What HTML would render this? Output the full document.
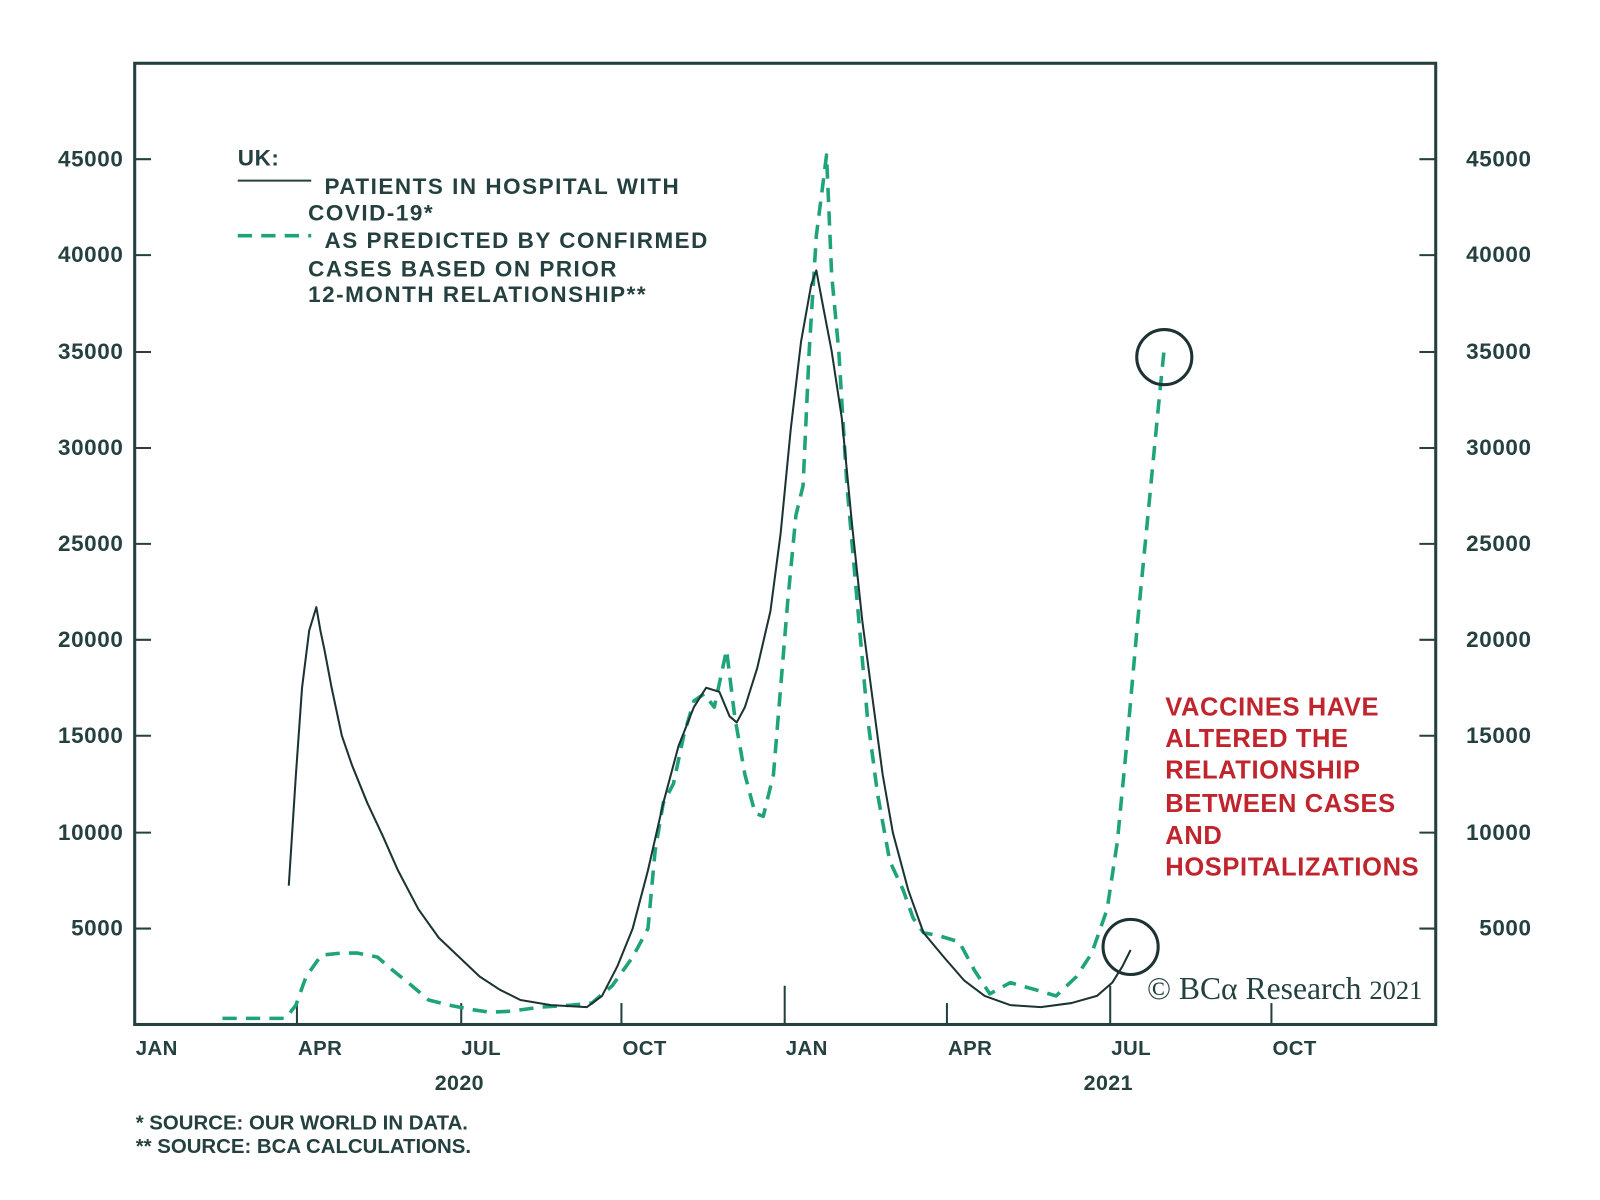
<!DOCTYPE html>
<html><head><meta charset="utf-8"><style>html,body{margin:0;padding:0;background:#fff}svg{display:block}</style></head>
<body>
<svg width="1600" height="1200" viewBox="0 0 1568 1176" xmlns="http://www.w3.org/2000/svg" font-family="Liberation Sans, Arial, sans-serif">
<rect width="1568" height="1176" fill="#fff"/>
<g stroke="#24403f" stroke-width="3" fill="none">
<rect x="132" y="62" width="1275" height="942"/>
</g>
<g stroke="#24403f" stroke-width="2">
<line x1="132" y1="156" x2="148" y2="156"/><line x1="132" y1="250" x2="148" y2="250"/><line x1="132" y1="345" x2="148" y2="345"/><line x1="132" y1="439" x2="148" y2="439"/><line x1="132" y1="533" x2="148" y2="533"/><line x1="132" y1="627" x2="148" y2="627"/><line x1="132" y1="721" x2="148" y2="721"/><line x1="132" y1="816" x2="148" y2="816"/><line x1="132" y1="910" x2="148" y2="910"/>
<line x1="1391" y1="156" x2="1407" y2="156"/><line x1="1391" y1="250" x2="1407" y2="250"/><line x1="1391" y1="345" x2="1407" y2="345"/><line x1="1391" y1="439" x2="1407" y2="439"/><line x1="1391" y1="533" x2="1407" y2="533"/><line x1="1391" y1="627" x2="1407" y2="627"/><line x1="1391" y1="721" x2="1407" y2="721"/><line x1="1391" y1="816" x2="1407" y2="816"/><line x1="1391" y1="910" x2="1407" y2="910"/>
<line x1="291" y1="1004" x2="291" y2="983"/><line x1="452" y1="1004" x2="452" y2="983"/><line x1="609" y1="1004" x2="609" y2="983"/><line x1="769" y1="1004" x2="769" y2="966"/><line x1="928" y1="1004" x2="928" y2="983"/><line x1="1088" y1="1004" x2="1088" y2="966"/><line x1="1246" y1="1004" x2="1246" y2="983"/>
</g>
<g font-size="22" font-weight="bold" fill="#24403f" letter-spacing="0.6">
<g text-anchor="end">
<text x="121" y="163">45000</text><text x="121" y="257">40000</text><text x="121" y="352">35000</text><text x="121" y="446">30000</text><text x="121" y="540">25000</text><text x="121" y="634">20000</text><text x="121" y="728">15000</text><text x="121" y="823">10000</text><text x="121" y="917">5000</text>
<text x="1501" y="163">45000</text><text x="1501" y="257">40000</text><text x="1501" y="352">35000</text><text x="1501" y="446">30000</text><text x="1501" y="540">25000</text><text x="1501" y="634">20000</text><text x="1501" y="728">15000</text><text x="1501" y="823">10000</text><text x="1501" y="917">5000</text>
</g>
<g font-size="20" letter-spacing="0.4">
<text x="133" y="1034">JAN</text><text x="292" y="1034">APR</text><text x="452" y="1034">JUL</text><text x="610" y="1034">OCT</text><text x="770" y="1034">JAN</text><text x="929" y="1034">APR</text><text x="1089" y="1034">JUL</text><text x="1247" y="1034">OCT</text>
<text x="426" y="1068" font-size="21">2020</text><text x="1062" y="1068" font-size="21">2021</text>
</g>
<g letter-spacing="1.5">
<text x="233" y="162" letter-spacing="0.6">UK:</text>
<text x="318" y="190">PATIENTS IN HOSPITAL WITH</text>
<text x="302" y="216">COVID-19*</text>
<text x="318" y="243">AS PREDICTED BY CONFIRMED</text>
<text x="302" y="271">CASES BASED ON PRIOR</text>
<text x="302" y="296">12-MONTH RELATIONSHIP**</text>
</g>
<text x="133" y="1107" font-size="20" letter-spacing="0">*  SOURCE: OUR WORLD IN DATA.</text>
<text x="133" y="1130" font-size="20" letter-spacing="0">** SOURCE: BCA CALCULATIONS.</text>
</g>
<line x1="233" y1="177" x2="305" y2="177" stroke="#24403f" stroke-width="2"/>
<line x1="233" y1="231" x2="305" y2="231" stroke="#1fa37a" stroke-width="3.5" stroke-dasharray="14,9"/>
<g font-size="25" font-weight="bold" fill="#c0242c" letter-spacing="0.6">
<text x="1142" y="701">VACCINES HAVE</text><text x="1142" y="732">ALTERED THE</text><text x="1142" y="763">RELATIONSHIP</text><text x="1142" y="796">BETWEEN CASES</text><text x="1142" y="827">AND</text><text x="1142" y="858">HOSPITALIZATIONS</text>
</g>
<text x="1124" y="979" font-family="Liberation Serif, serif" font-size="31" fill="#24403f">© BCα Research <tspan font-size="26">2021</tspan></text>
<polyline fill="none" stroke="#1fa37a" stroke-width="3.5" stroke-dasharray="14,9" stroke-linejoin="round" points="218,998 280,998 290,985 300,957 315,936 335,934 350,934 370,938 385,951 400,963 420,980 440,985 460,989 480,992 500,991 530,987 560,985 580,983 600,966 620,938 635,910 642,834 650,787 660,768 670,721 680,687 690,680 700,693 712,637 720,702 730,759 740,797 748,800 758,759 765,674 772,589 780,505 787,476 793,344 800,231 806,184 810,152 815,269 822,344 830,476 840,589 850,702 860,778 872,844 885,872 895,900 905,914 920,917 940,923 955,951 970,974 990,963 1015,970 1035,976 1055,957 1070,934 1085,891 1095,825 1105,721 1115,608 1125,505 1135,401 1141,341"/>
<polyline fill="none" stroke="#1d3232" stroke-width="2" stroke-linejoin="round" points="283,868 290,759 296,674 303,618 310,595 314,618 318,637 325,674 335,721 345,750 360,787 375,819 390,853 410,891 430,919 450,938 470,957 490,970 510,980 540,985 575,987 590,976 605,947 620,910 635,853 650,787 665,731 680,693 692,674 705,678 715,702 722,708 730,693 742,655 755,599 765,523 775,420 785,335 795,279 800,265 806,297 815,344 825,410 835,514 845,608 855,684 865,759 875,816 890,872 905,914 925,938 945,961 965,976 990,985 1020,987 1050,983 1075,976 1090,963 1100,947 1108,931"/>
<circle cx="1141" cy="350" r="27" fill="none" stroke="#1d3232" stroke-width="3"/>
<circle cx="1108" cy="928" r="27" fill="none" stroke="#1d3232" stroke-width="3"/>
</svg>
</body></html>
